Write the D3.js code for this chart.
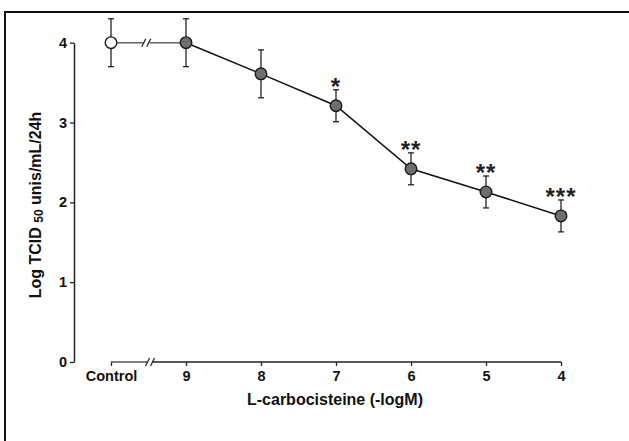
<!DOCTYPE html>
<html>
<head>
<meta charset="utf-8">
<script src="https://cdn.jsdelivr.net/npm/d3@7"></script>
<style>
  body { margin: 0; background: #fff; }
  svg { display: block; font-family: "Liberation Sans", Arial, sans-serif; }
</style>
</head>
<body>
<div id="chart"></div>
<script>
// concentration categories (-logM), control first
const categories = ['Control', '9', '8', '7', '6', '5', '4'];
const means = [4.0, 4.0, 3.61, 3.21, 2.42, 2.13, 1.83];
const errors = [0.3, 0.3, 0.3, 0.2, 0.2, 0.2, 0.2];
const stars = ['', '', '', '*', '**', '**', '***'];
const yTicks = [0, 1, 2, 3, 4];

const width = 629;
const height = 441;

const data = categories.map((c, i) => ({cat: c, mean: means[i], err: errors[i], star: stars[i]}));

const svg = d3.select('#chart')
    .append('svg')
    .attr('width', width)
    .attr('height', height);

// frame (left + top edges of the scanned box)
svg.append('path')
    .attr('d', `M5,${height} L5,12 L${width},12`)
    .attr('fill', 'none')
    .attr('stroke', '#111')
    .attr('stroke-width', 2);

const xScale = d3.scalePoint()
    .domain(categories)
    .range([111, 561]);
const yScale = d3.scaleLinear()
    .domain([0, 4])
    .range([362, 42.7]);

const axisX = 74;
const axisY = 362;

// y axis
const yAxis = svg.append('g')
    .attr('transform', `translate(${axisX},0)`)
    .call(d3.axisLeft(yScale).tickValues(yTicks).tickFormat(d3.format('d')).tickSize(4).tickSizeOuter(0).tickPadding(3));
yAxis.select('.domain').attr('stroke', '#222').attr('stroke-width', 1.5);
yAxis.selectAll('.tick line').attr('stroke', '#222').attr('stroke-width', 1.3);
yAxis.selectAll('.tick text')
    .attr('font-size', 14.5)
    .attr('font-weight', 'bold')
    .attr('fill', '#111')
    .attr('font-family', '"Liberation Sans", Arial, sans-serif');

// x axis with break between Control and 9
const xAxis = svg.append('g')
    .attr('transform', `translate(0,${axisY})`)
    .call(d3.axisBottom(xScale).tickSize(4).tickSizeOuter(0).tickPadding(5));
xAxis.select('.domain').remove();
xAxis.selectAll('.tick line').attr('stroke', '#222').attr('stroke-width', 1.3);
xAxis.selectAll('.tick text')
    .attr('font-size', 14.5)
    .attr('font-weight', 'bold')
    .attr('fill', '#111')
    .attr('font-family', '"Liberation Sans", Arial, sans-serif');

const x0 = xScale('Control');
const x1 = xScale('9');
const axisBreak = x0 + (x1 - x0) * 0.52;
const lineBreak = x0 + (x1 - x0) * 0.47;

function drawBreak(g, bx, by, color) {
    g.append('line')
        .attr('x1', x0).attr('x2', bx - 3)
        .attr('y1', by).attr('y2', by)
        .attr('stroke', color).attr('stroke-width', 1.5);
    [-2.5, 2.5].forEach(off => {
        g.append('line')
            .attr('x1', bx + off - 2).attr('x2', bx + off + 2)
            .attr('y1', by + 4).attr('y2', by - 4)
            .attr('stroke', '#222').attr('stroke-width', 1.2);
    });
}

const axisG = svg.append('g');
drawBreak(axisG, axisBreak, axisY, '#555');
axisG.append('line')
    .attr('x1', axisBreak + 3).attr('x2', xScale('4'))
    .attr('y1', axisY).attr('y2', axisY)
    .attr('stroke', '#222').attr('stroke-width', 1.5);

// data line
const lineG = svg.append('g');
drawBreak(lineG, lineBreak, yScale(means[0]), '#666');
lineG.append('line')
    .attr('x1', lineBreak + 3).attr('x2', x1)
    .attr('y1', yScale(means[0])).attr('y2', yScale(means[1]))
    .attr('stroke', '#666').attr('stroke-width', 1.5);

const line = d3.line()
    .x(d => xScale(d.cat))
    .y(d => yScale(d.mean));

svg.append('path')
    .datum(data.slice(1))
    .attr('fill', 'none')
    .attr('stroke', '#111')
    .attr('stroke-width', 1.5)
    .attr('d', line);

// error bars
const eb = svg.append('g').selectAll('g')
    .data(data)
    .join('g')
    .attr('stroke', '#222')
    .attr('stroke-width', 1.3);
eb.append('line')
    .attr('x1', d => xScale(d.cat)).attr('x2', d => xScale(d.cat))
    .attr('y1', d => yScale(d.mean + d.err)).attr('y2', d => yScale(d.mean - d.err));
eb.append('line')
    .attr('x1', d => xScale(d.cat) - 3).attr('x2', d => xScale(d.cat) + 3)
    .attr('y1', d => yScale(d.mean + d.err)).attr('y2', d => yScale(d.mean + d.err));
eb.append('line')
    .attr('x1', d => xScale(d.cat) - 3).attr('x2', d => xScale(d.cat) + 3)
    .attr('y1', d => yScale(d.mean - d.err)).attr('y2', d => yScale(d.mean - d.err));

// markers
svg.append('g').selectAll('circle')
    .data(data)
    .join('circle')
    .attr('cx', d => xScale(d.cat))
    .attr('cy', d => yScale(d.mean))
    .attr('r', 5.8)
    .attr('fill', d => d.cat === 'Control' ? '#fff' : '#6e6e6e')
    .attr('stroke', '#1a1a1a')
    .attr('stroke-width', 1.4);

// significance stars
svg.append('g').selectAll('text')
    .data(data.filter(d => d.star))
    .join('text')
    .attr('x', d => xScale(d.cat))
    .attr('y', d => yScale(d.mean + d.err) + 5)
    .attr('text-anchor', 'middle')
    .attr('font-size', 24)
    .attr('font-weight', 'bold')
    .attr('letter-spacing', 1)
    .attr('fill', '#222')
    .text(d => d.star);

// axis titles
svg.append('text')
    .attr('x', 335)
    .attr('y', 405)
    .attr('text-anchor', 'middle')
    .attr('font-size', 16)
    .attr('font-weight', 'bold')
    .attr('fill', '#111')
    .text('L-carbocisteine (-logM)');

const yTitle = svg.append('text')
    .attr('transform', 'translate(41,205) rotate(-90)')
    .attr('text-anchor', 'middle')
    .attr('font-size', 16)
    .attr('font-weight', 'bold')
    .attr('fill', '#111');
yTitle.append('tspan').text('Log TCID ');
yTitle.append('tspan').attr('font-size', 12).attr('dy', 2).text('50');
yTitle.append('tspan').attr('dy', -2).text(' unis/mL/24h');
</script>
</body>
</html>
